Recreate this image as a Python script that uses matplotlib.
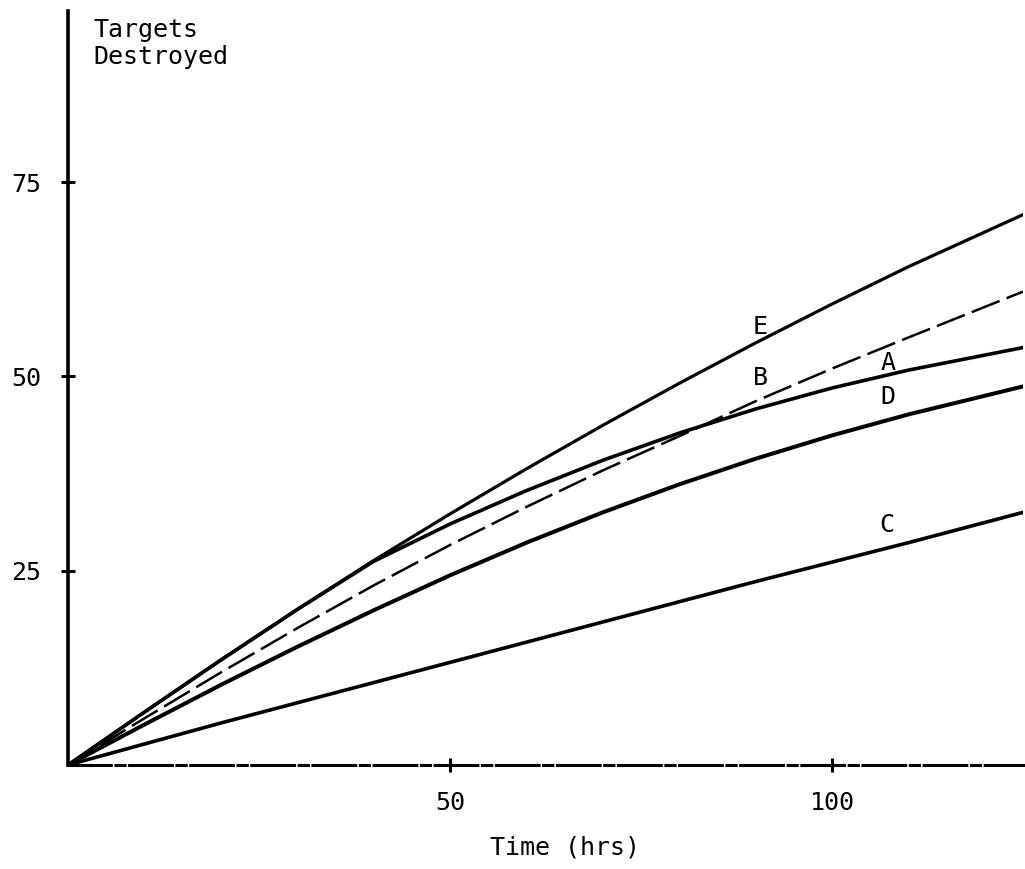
import numpy as np
import matplotlib
matplotlib.use("Agg")
import matplotlib.pyplot as plt

# time axis (hrs) and targets destroyed per curve
hours = [0, 10, 20, 30, 40, 50, 60, 70, 80, 90, 100, 110, 125]
curve_e = [0, 6.8, 13.5, 20.0, 26.3, 32.3, 38.1, 43.7, 49.1, 54.3, 59.3, 64.1, 70.8]
curve_a = [0, 6.8, 13.5, 20.0, 26.2, 31.0, 35.3, 39.2, 42.7, 45.8, 48.5, 50.8, 53.7]
curve_b = [0, 6.0, 11.9, 17.6, 23.1, 28.3, 33.2, 37.9, 42.3, 46.8, 51.0, 55.0, 60.9]
curve_d = [0, 5.2, 10.3, 15.2, 19.9, 24.4, 28.6, 32.5, 36.1, 39.4, 42.4, 45.1, 48.7]
curve_c = [0, 2.7, 5.4, 8.0, 10.6, 13.2, 15.8, 18.4, 21.0, 23.6, 26.1, 28.6, 32.5]

x_ticks = [50, 100]
y_ticks = [25, 50, 75]

# curve labels: name -> (x, y) in data units
labels = {"E": (90.6, 56.4), "B": (90.6, 49.8), "A": (107.3, 51.7),
          "D": (107.3, 47.4), "C": (107.2, 30.9)}

font = "DejaVu Sans Mono"

fig = plt.figure(figsize=(10.25, 8.69), dpi=100)
ax = fig.add_axes([68 / 1025, 104 / 869, 955 / 1025, 754 / 869])

lw = 2.6
ax.plot(hours, curve_e, color="black", lw=2.3)
ax.plot(hours, curve_a, color="black", lw=lw)
ax.plot(hours, curve_b, color="black", lw=1.8, linestyle=(0, (12, 3)))
ax.plot(hours, curve_d, color="black", lw=2.9)
ax.plot(hours, curve_c, color="black", lw=lw)

for name, (lx, ly) in labels.items():
    ax.text(lx, ly, name, fontsize=18, family=font, ha="center", va="center")

ax.set_xlim(0, 125)
ax.set_ylim(0, 97)

for side in ["top", "right"]:
    ax.spines[side].set_visible(False)
ax.spines["left"].set_linewidth(2.6)
ax.spines["bottom"].set_linewidth(2.2)
ax.spines["bottom"].set_linestyle((0, (14, 1.5, 3, 1.5)))

ax.set_xticks(x_ticks)
ax.set_yticks(y_ticks)
ax.tick_params(direction="inout", length=10, width=2.2, labelsize=18)
ax.tick_params(axis="y", pad=14)
ax.tick_params(axis="x", pad=14)
for lab in ax.get_xticklabels() + ax.get_yticklabels():
    lab.set_family(font)

fig.text(565 / 1025, 1 - 847 / 869, "Time (hrs)", fontsize=18, family=font,
         ha="center", va="center")
fig.text(93 / 1025, 1 - 18 / 869, "Targets\nDestroyed", fontsize=18, family=font,
         ha="left", va="top", linespacing=1.15)

fig.savefig("out.png", dpi=100)
